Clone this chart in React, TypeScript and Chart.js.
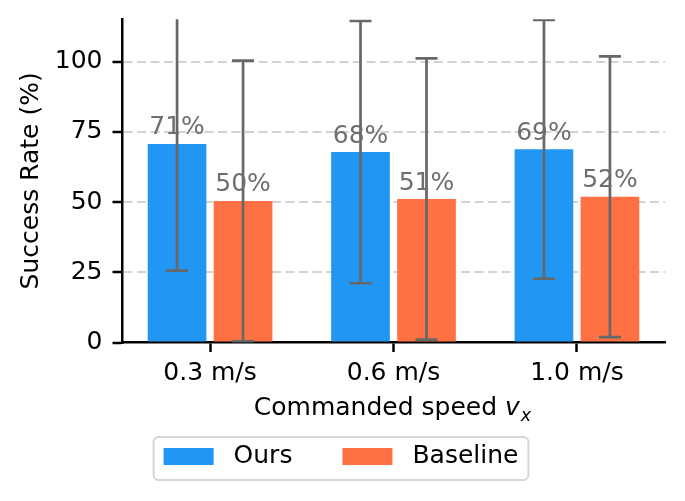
import React, { useEffect, useRef } from 'react';
import { Chart, registerables } from 'chart.js';

Chart.register(...registerables);

const categories = ['0.3 m/s', '0.6 m/s', '1.0 m/s'];
const categoryPositions = [0, 1, 2];
const seriesLabels = ['Ours', 'Baseline'];
const oursValues = [70.7, 67.8, 68.8];
const oursErrors = [45.1, 46.7, 46.1];
const baselineValues = [50.4, 51.1, 51.9];
const baselineErrors = [50.0, 50.1, 50.0];
const yTickValues = [0, 25, 50, 75, 100];
const yAxisTitle = 'Success Rate (%)';
const xAxisTitleText = 'Commanded speed ';
const xAxisTitleVar = 'v';
const xAxisTitleSub = 'x';

const FAMILY = "'DejaVu Sans', sans-serif";
const FONT_SIZE = 25;
const BLUE = '#2196F3';
const ORANGE = '#FF7043';

Chart.defaults.font.family = FAMILY;

const errorBarPlugin = {
  id: 'errorBars',
  afterDatasetsDraw(chart: any) {
    const { ctx, chartArea } = chart;
    const yScale = chart.scales.y;
    chart.data.datasets.forEach((ds: any, di: number) => {
      const meta = chart.getDatasetMeta(di);
      meta.data.forEach((el: any, i: number) => {
        const v = ds.data[i].y;
        const e = ds.errors[i];
        const yTop = yScale.getPixelForValue(v + e);
        const yBot = yScale.getPixelForValue(v - e);
        ctx.save();
        ctx.beginPath();
        ctx.rect(chartArea.left, chartArea.top, chartArea.right - chartArea.left, chartArea.bottom - chartArea.top);
        ctx.clip();
        ctx.strokeStyle = '#676767';
        ctx.lineWidth = 2.7;
        ctx.beginPath();
        ctx.moveTo(el.x, yTop);
        ctx.lineTo(el.x, yBot);
        ctx.moveTo(el.x - 11, yTop);
        ctx.lineTo(el.x + 11, yTop);
        ctx.moveTo(el.x - 11, yBot);
        ctx.lineTo(el.x + 11, yBot);
        ctx.stroke();
        ctx.restore();
      });
    });
    ctx.save();
    ctx.font = `${FONT_SIZE}px ${FAMILY}`;
    ctx.fillStyle = '#6e6e6e';
    ctx.textAlign = 'center';
    ctx.textBaseline = 'alphabetic';
    chart.data.datasets.forEach((ds: any, di: number) => {
      const meta = chart.getDatasetMeta(di);
      meta.data.forEach((el: any, i: number) => {
        const v = ds.data[i].y;
        ctx.fillText(`${Math.round(v)}%`, el.x, el.y - 9.5);
      });
    });
    ctx.restore();
  },
};

const xTitlePlugin = {
  id: 'xTitle',
  afterDraw(chart: any) {
    const { ctx, chartArea } = chart;
    ctx.save();
    ctx.fillStyle = '#000';
    ctx.textBaseline = 'alphabetic';
    ctx.textAlign = 'left';
    const fMain = `${FONT_SIZE}px ${FAMILY}`;
    const fIt = `italic ${FONT_SIZE}px ${FAMILY}`;
    const fSub = `italic ${FONT_SIZE * 0.7}px ${FAMILY}`;
    ctx.font = fMain;
    const w1 = ctx.measureText(xAxisTitleText).width;
    ctx.font = fIt;
    const w2 = ctx.measureText(xAxisTitleVar).width;
    ctx.font = fSub;
    const w3 = ctx.measureText(xAxisTitleSub).width;
    const total = w1 + w2 + w3 + 1;
    const cx = (chartArea.left + chartArea.right) / 2 - 1;
    const baseY = chartArea.bottom + 72.5;
    let x = cx - total / 2;
    ctx.font = fMain;
    ctx.fillText(xAxisTitleText, x, baseY);
    x += w1;
    ctx.font = fIt;
    ctx.fillText(xAxisTitleVar, x, baseY);
    x += w2 + 1;
    ctx.font = fSub;
    ctx.fillText(xAxisTitleSub, x, baseY + 6);
    ctx.restore();
  },
};

const legendPlugin = {
  id: 'boxLegend',
  afterDraw(chart: any) {
    const { ctx, chartArea } = chart;
    ctx.save();
    ctx.font = `${FONT_SIZE}px ${FAMILY}`;
    const items = chart.data.datasets.map((ds: any) => ({
      label: ds.label,
      color: ds.backgroundColor,
      w: ctx.measureText(ds.label).width,
    }));
    const pad = 10;
    const handleW = 50;
    const handleH = 17;
    const textPad = 20;
    const colSp = 50;
    let total = 2 * pad;
    items.forEach((it: any, i: number) => {
      total += handleW + textPad + it.w + (i > 0 ? colSp : 0);
    });
    const cx = chart.width / 2 - 1.5;
    const left = cx - total / 2;
    const top = chartArea.bottom + 94.5;
    const height = 43;
    const r = 5;
    ctx.beginPath();
    ctx.moveTo(left + r, top);
    ctx.lineTo(left + total - r, top);
    ctx.arcTo(left + total, top, left + total, top + r, r);
    ctx.lineTo(left + total, top + height - r);
    ctx.arcTo(left + total, top + height, left + total - r, top + height, r);
    ctx.lineTo(left + r, top + height);
    ctx.arcTo(left, top + height, left, top + height - r, r);
    ctx.lineTo(left, top + r);
    ctx.arcTo(left, top, left + r, top, r);
    ctx.closePath();
    ctx.fillStyle = '#ffffff';
    ctx.fill();
    ctx.strokeStyle = '#d6d6d6';
    ctx.lineWidth = 2;
    ctx.stroke();
    let x = left + pad;
    const cy = top + 19.5;
    ctx.textBaseline = 'middle';
    ctx.textAlign = 'left';
    items.forEach((it: any) => {
      ctx.fillStyle = it.color;
      ctx.fillRect(x, cy - handleH / 2, handleW, handleH);
      x += handleW + textPad;
      ctx.fillStyle = '#000';
      ctx.fillText(it.label, x, cy);
      x += it.w + colSp;
    });
    ctx.restore();
  },
};

export default function App() {
  const canvasRef = useRef<HTMLCanvasElement | null>(null);

  useEffect(() => {
    document.body.style.margin = '0';
    const canvas = canvasRef.current;
    if (!canvas) return;
    const font = { family: FAMILY, size: FONT_SIZE };
    const chart = new Chart(canvas, {
      type: 'bar',
      data: {
        datasets: [
          {
            label: seriesLabels[0],
            data: categoryPositions.map((x, i) => ({ x, y: oursValues[i] })),
            errors: oursErrors,
            backgroundColor: BLUE,
            borderWidth: 0,
            categoryPercentage: 0.7195,
            barPercentage: 0.889,
          } as any,
          {
            label: seriesLabels[1],
            data: categoryPositions.map((x, i) => ({ x, y: baselineValues[i] })),
            errors: baselineErrors,
            backgroundColor: ORANGE,
            borderWidth: 0,
            categoryPercentage: 0.7195,
            barPercentage: 0.889,
          } as any,
        ],
      },
      options: {
        animation: false,
        responsive: false,
        maintainAspectRatio: false,
        layout: { padding: { top: 19.3, right: 20, bottom: 0, left: 0 } },
        plugins: {
          legend: { display: false },
          tooltip: { enabled: false },
        },
        scales: {
          x: {
            type: 'linear',
            min: -0.48,
            max: 2.48,
            offset: false,
            afterBuildTicks: (s: any) => {
              s.ticks = categoryPositions.map((v) => ({ value: v }));
            },
            afterFit: (s: any) => {
              s.height = 158.5;
              s.paddingLeft = 0;
              s.paddingRight = 0;
            },
            ticks: {
              font,
              color: '#000',
              padding: 6.5,
              maxRotation: 0,
              minRotation: 0,
              autoSkip: false,
              callback: (v: any) => {
                const idx = categoryPositions.indexOf(Number(v));
                return idx >= 0 ? categories[idx] : '';
              },
            },
            grid: {
              offset: false,
              drawOnChartArea: false,
              drawTicks: true,
              tickLength: 9.5,
              tickWidth: 2.5,
              tickColor: '#000',
              tickBorderDash: [],
            },
            border: { display: true, color: '#000', width: 2.5 },
          },
          y: {
            type: 'linear',
            min: 0,
            max: 115.1,
            afterBuildTicks: (s: any) => {
              s.ticks = yTickValues.map((v) => ({ value: v }));
            },
            afterFit: (s: any) => {
              s.width = 122;
              s.paddingTop = 0;
              s.paddingBottom = 0;
            },
            ticks: {
              font,
              color: '#000',
              padding: 10,
              callback: (v: any) => String(v),
            },
            grid: {
              color: (c: any) => (c.tick && c.tick.value === 0 ? 'rgba(0,0,0,0)' : '#d3d3d3'),
              lineWidth: 2,
              drawTicks: true,
              tickLength: 9.5,
              tickWidth: 2.5,
              tickColor: '#000',
              tickBorderDash: [],
            },
            border: { display: true, color: '#000', width: 2.5, dash: [9, 4.5] },
            title: {
              display: true,
              text: yAxisTitle,
              font,
              color: '#000',
              padding: { top: 16.35, bottom: 0 },
            },
          },
        },
      } as any,
      plugins: [errorBarPlugin, xTitlePlugin, legendPlugin],
    });
    return () => {
      chart.destroy();
    };
  }, []);

  return (
    <div style={{ position: 'absolute', left: 0, top: 0, width: 685, height: 501, background: '#fff' }}>
      <canvas ref={canvasRef} width={685} height={501} />
    </div>
  );
}
